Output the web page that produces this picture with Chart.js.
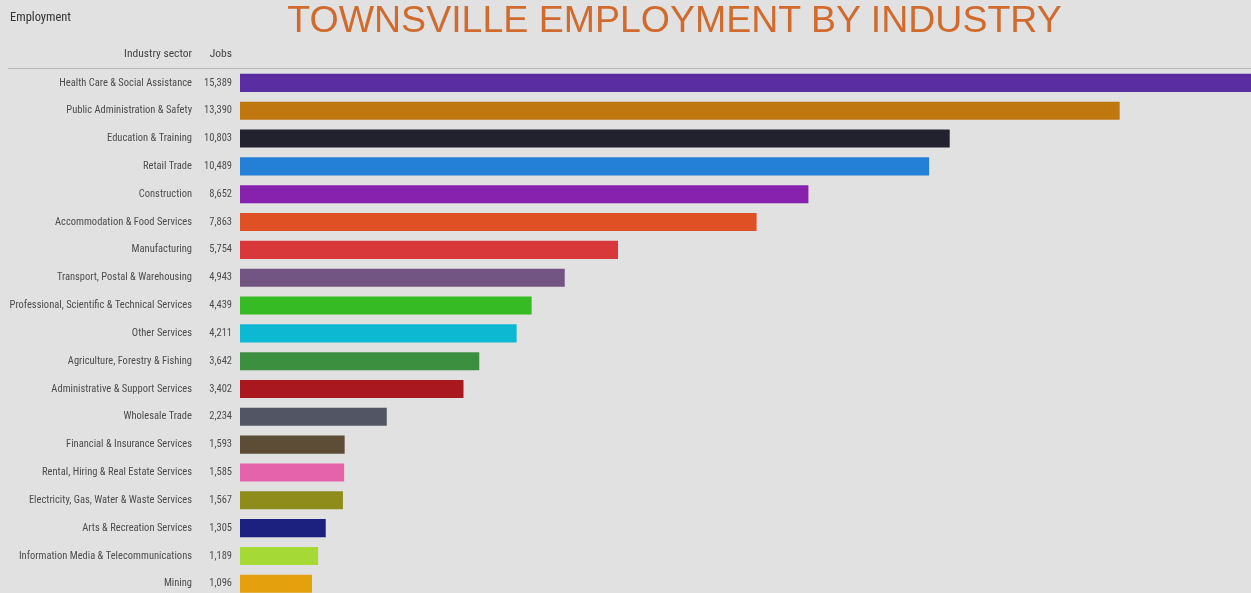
<!DOCTYPE html>
<html>
<head>
<meta charset="utf-8">
<script src="https://cdn.jsdelivr.net/npm/chart.js@4"></script>
<style>
  html, body { margin:0; padding:0; width:1251px; height:593px; overflow:hidden; background:#e1e1e1; }
  #wrap { position:absolute; left:0; top:0; width:1251px; height:612px; }
  .t { position:absolute; white-space:nowrap; font-family:"Liberation Sans Narrow","Roboto Condensed","Roboto",sans-serif; color:#444; }
  #emp { left:10px; top:9px; font-size:12.5px; color:#333; }
  #title { left:0; width:1349px; text-align:center; top:-2px; font-family:"Liberation Sans",Arial,sans-serif; font-size:37.5px; color:#d06b2d; }
  #hs { right:1059px; top:46px; font-size:11.5px; color:#444; }
  #hj { right:1019px; top:46px; font-size:11.5px; color:#444; }
  #line { position:absolute; left:8px; top:68px; width:1243px; height:1px; background:#b8b8b8; }
</style>
</head>
<body>
<div id="wrap"><canvas id="c"></canvas></div>
<div class="t" id="emp">Employment</div>
<div class="t" id="title">TOWNSVILLE EMPLOYMENT BY INDUSTRY</div>
<div class="t" id="hs">Industry sector</div>
<div class="t" id="hj">Jobs</div>
<div id="line"></div>
<script>
const categories = [
  "Health Care & Social Assistance",
  "Public Administration & Safety",
  "Education & Training",
  "Retail Trade",
  "Construction",
  "Accommodation & Food Services",
  "Manufacturing",
  "Transport, Postal & Warehousing",
  "Professional, Scientific & Technical Services",
  "Other Services",
  "Agriculture, Forestry & Fishing",
  "Administrative & Support Services",
  "Wholesale Trade",
  "Financial & Insurance Services",
  "Rental, Hiring & Real Estate Services",
  "Electricity, Gas, Water & Waste Services",
  "Arts & Recreation Services",
  "Information Media & Telecommunications",
  "Mining"
];
const jobs = [15389, 13390, 10803, 10489, 8652, 7863, 5754, 4943, 4439, 4211, 3642, 3402, 2234, 1593, 1585, 1567, 1305, 1189, 1096];
const jobLabels = ["15,389","13,390","10,803","10,489","8,652","7,863","5,754","4,943","4,439","4,211","3,642","3,402","2,234","1,593","1,585","1,567","1,305","1,189","1,096"];
const barColors = [
  "#5a2ea2","#bf7710","#22222e","#2480d6","#8722ae","#e05025","#d9383a","#735583",
  "#36bb24","#0cb8d2","#3c8f3e","#a8181e","#525563","#5d4c36","#e563aa","#8f8c1c",
  "#1c207e","#a5d936","#e5a00e"
];

const labelFont = { family: "'Liberation Sans Narrow','Roboto Condensed',Roboto,sans-serif", size: 10.5 };

new Chart(document.getElementById('c'), {
  type: 'bar',
  data: {
    labels: categories,
    datasets: [{
      data: jobs,
      backgroundColor: barColors,
      borderWidth: 0,
      barPercentage: 0.65,
      categoryPercentage: 1.0
    }]
  },
  options: {
    indexAxis: 'y',
    responsive: true,
    maintainAspectRatio: false,
    animation: false,
    layout: { padding: { top: 69, bottom: 0, left: 0, right: 0 } },
    plugins: { legend: { display: false }, tooltip: { enabled: false } },
    scales: {
      x: { display: false, min: 0, max: 15389 },
      y: {
        type: 'category',
        position: 'left',
        weight: 1,
        grid: { display: false, drawTicks: false },
        border: { display: false },
        ticks: { color: '#4d4d4d', font: labelFont, padding: 0, autoSkip: false },
        afterFit: (s) => { s.width = 192; }
      },
      yv: {
        type: 'category',
        position: 'left',
        weight: 0,
        labels: jobLabels,
        grid: { display: false, drawTicks: false },
        border: { display: false },
        ticks: { color: '#4d4d4d', font: labelFont, padding: 8, autoSkip: false },
        afterFit: (s) => { s.width = 48; }
      }
    }
  }
});
</script>
</body>
</html>
